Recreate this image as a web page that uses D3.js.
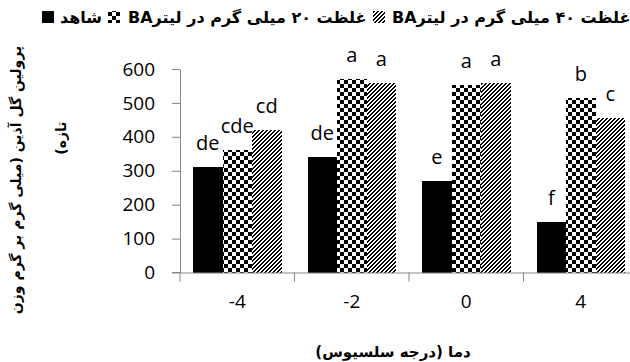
<!DOCTYPE html>
<html>
<head>
<meta charset="utf-8">
<script src="https://cdn.jsdelivr.net/npm/d3@7/dist/d3.min.js"></script>
<style>
  html, body { margin: 0; padding: 0; background: #fff; }
  svg { display: block; }
</style>
</head>
<body>
<svg id="chart" width="630" height="362"></svg>
<script>
// Temperature treatments (x categories)
const categories = ["-4", "-2", "0", "4"];

// Series names (legend)
const seriesNames = [
  "شاهد",
  "غلظت ۲۰ میلی گرم در لیترBA",
  "غلظت ۴۰ میلی گرم در لیترBA"
];

// Inflorescence proline per series
const controlValues = [310, 340, 270, 150];
const ba20Values = [360, 570, 553, 515];
const ba40Values = [420, 560, 560, 455];

// Mean-separation letters per series
const controlLetters = ["de", "de", "e", "f"];
const ba20Letters = ["cde", "a", "a", "b"];
const ba40Letters = ["cd", "a", "a", "c"];

const yTickValues = [0, 100, 200, 300, 400, 500, 600];

const yTitleLines = ["پرولین گل آذین (میلی گرم بر گرم وزن", "تازه)"];
const xTitle = "دما (درجه سلسیوس)";

const series = [
  { name: seriesNames[0], values: controlValues, letters: controlLetters, fill: "#000" },
  { name: seriesNames[1], values: ba20Values, letters: ba20Letters, fill: "url(#checker)" },
  { name: seriesNames[2], values: ba40Values, letters: ba40Letters, fill: "url(#hatch)" }
];

const svg = d3.select("#chart");
const axisColor = "#868686";
const latinFont = "'Open Sans', 'DejaVu Sans', sans-serif";
const persianFont = "'DejaVu Sans', sans-serif";

// Fill patterns
const defs = svg.append("defs");
const checker = defs.append("pattern")
  .attr("id", "checker").attr("patternUnits", "userSpaceOnUse")
  .attr("width", 8).attr("height", 8);
checker.append("rect").attr("width", 8).attr("height", 8).attr("fill", "#fff");
checker.append("rect").attr("width", 4).attr("height", 4).attr("fill", "#000");
checker.append("rect").attr("x", 4).attr("y", 4).attr("width", 4).attr("height", 4).attr("fill", "#000");

const hatch = defs.append("pattern")
  .attr("id", "hatch").attr("patternUnits", "userSpaceOnUse")
  .attr("width", 4).attr("height", 4);
hatch.append("rect").attr("width", 4).attr("height", 4).attr("fill", "#fff");
for (let px = 0; px < 4; px++) {
  for (let py = 0; py < 4; py++) {
    if ((px + py) % 4 === 0 || (px + py) % 4 === 1) {
      hatch.append("rect").attr("x", px).attr("y", py)
        .attr("width", 1).attr("height", 1).attr("fill", "#000");
    }
  }
}

// Scales
const plotLeft = 180, plotRight = 638, plotTop = 69, plotBottom = 272.5;
const x = d3.scaleBand().domain(categories).range([plotLeft, plotRight]);
const groupPad = 13;
const xInner = d3.scaleBand().domain(d3.range(series.length))
  .range([groupPad, x.bandwidth() - groupPad]);
const y = d3.scaleLinear().domain([0, 600]).range([plotBottom, plotTop]);

// Bars and their letters
const plot = svg.append("g");
series.forEach((s, si) => {
  plot.selectAll(null).data(categories).enter().append("rect")
    .attr("x", (c) => x(c) + xInner(si))
    .attr("y", (c, i) => y(s.values[i]))
    .attr("width", xInner.bandwidth())
    .attr("height", (c, i) => y(0) - y(s.values[i]))
    .attr("fill", s.fill)
    .attr("shape-rendering", "crispEdges");

  plot.selectAll(null).data(categories).enter().append("text")
    .attr("x", (c) => x(c) + xInner(si) + xInner.bandwidth() / 2)
    .attr("y", (c, i) => y(s.values[i]) - 17)
    .attr("text-anchor", "middle")
    .attr("font-family", latinFont)
    .attr("font-size", 20)
    .attr("fill", "#000")
    .text((c, i) => s.letters[i]);
});

// Y axis
const yAxis = svg.append("g")
  .attr("transform", `translate(${plotLeft},0)`)
  .call(d3.axisLeft(y).tickValues(yTickValues).tickSize(8).tickPadding(17).tickSizeOuter(0));
yAxis.select(".domain").attr("stroke", axisColor);
yAxis.selectAll(".tick line").attr("stroke", axisColor);
yAxis.selectAll(".tick text")
  .attr("font-family", latinFont).attr("font-size", 19).attr("fill", "#000");

// X axis: labels at category centres, dividers at band edges
const xAxis = svg.append("g")
  .attr("transform", `translate(0,${plotBottom})`)
  .call(d3.axisBottom(x).tickSize(0).tickPadding(22).tickSizeOuter(0));
xAxis.select(".domain").attr("stroke", axisColor);
xAxis.selectAll(".tick text")
  .attr("font-family", latinFont).attr("font-size", 19).attr("fill", "#000");
const dividers = categories.map((c) => x(c)).concat([x(categories[categories.length - 1]) + x.bandwidth()]);
xAxis.selectAll(".divider").data(dividers).enter().append("line")
  .attr("x1", (d) => d).attr("x2", (d) => d)
  .attr("y1", 0).attr("y2", 9)
  .attr("stroke", axisColor);
svg.append("line")
  .attr("x1", plotLeft - 8).attr("x2", plotLeft)
  .attr("y1", plotBottom).attr("y2", plotBottom)
  .attr("stroke", axisColor);

// Axis titles
svg.append("text")
  .attr("x", 393).attr("y", 357)
  .attr("text-anchor", "middle")
  .attr("direction", "rtl")
  .attr("font-family", persianFont)
  .attr("font-size", 15)
  .attr("font-weight", "bold")
  .attr("fill", "#000")
  .text(xTitle);

const yTitlePos = [{ x: 21, y: 180 }, { x: 66, y: 138 }];
yTitleLines.forEach((line, i) => {
  svg.append("text")
    .attr("transform", `translate(${yTitlePos[i].x},${yTitlePos[i].y}) rotate(-90)`)
    .attr("text-anchor", "middle")
    .attr("direction", "rtl")
    .attr("font-family", persianFont)
    .attr("font-size", 14)
    .attr("font-weight", "bold")
    .attr("fill", "#000")
    .text(line);
});

// Legend (icon on the left of each entry)
const legendItems = [
  { icon: 42, textLeft: 60 },
  { icon: 108, textLeft: 128 },
  { icon: 373, textLeft: 392 }
];
const legend = svg.append("g");
series.forEach((s, i) => {
  legend.append("rect")
    .attr("x", legendItems[i].icon).attr("y", 11)
    .attr("width", 12).attr("height", 12)
    .attr("fill", s.fill)
    .attr("shape-rendering", "crispEdges");
  legend.append("text")
    .attr("x", legendItems[i].textLeft).attr("y", 23)
    .attr("direction", "rtl")
    .attr("text-anchor", "end")
    .attr("font-family", persianFont)
    .attr("font-size", 16)
    .attr("font-weight", "bold")
    .attr("fill", "#000")
    .text(s.name);
});
</script>
</body>
</html>
